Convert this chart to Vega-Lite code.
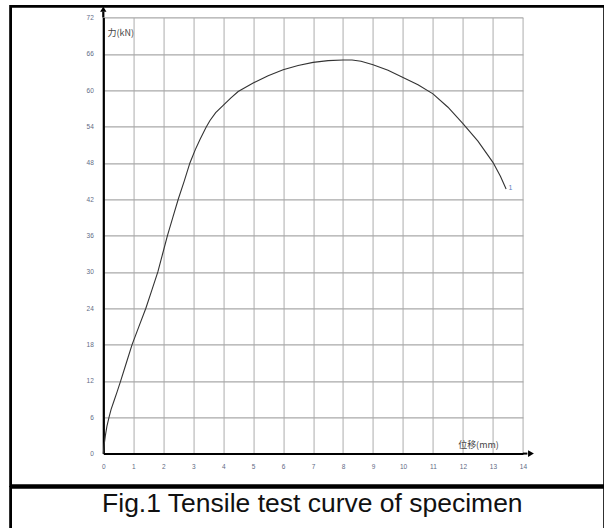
{
  "$schema": "https://vega.github.io/schema/vega-lite/v6.json",
  "padding": {"left": 8.6, "top": 4.4, "right": 0, "bottom": 0},
  "spacing": -2.8,
  "config": {
    "view": {"stroke": "black", "strokeWidth": 2.8},
    "font": "Liberation Sans",
    "axis": {"labelFont": "Liberation Sans"}
  },
  "vconcat": [
    {
      "width": 594,
      "height": 479.2,
      "resolve": {"axis": {"x": "independent", "y": "independent"}},
      "layer": [
        {
          "data": {
            "values": [
              {"disp": 0.00, "force": 0},
              {"disp": 0.03, "force": 1.5},
              {"disp": 0.07, "force": 3},
              {"disp": 0.12, "force": 4.5},
              {"disp": 0.19, "force": 6},
              {"disp": 0.26, "force": 7.3},
              {"disp": 0.35, "force": 8.6},
              {"disp": 0.46, "force": 10.2},
              {"disp": 0.58, "force": 12},
              {"disp": 0.77, "force": 15},
              {"disp": 0.96, "force": 18},
              {"disp": 1.19, "force": 21},
              {"disp": 1.42, "force": 24},
              {"disp": 1.62, "force": 27},
              {"disp": 1.82, "force": 30},
              {"disp": 1.98, "force": 33},
              {"disp": 2.14, "force": 36},
              {"disp": 2.32, "force": 39},
              {"disp": 2.50, "force": 42},
              {"disp": 2.70, "force": 45},
              {"disp": 2.89, "force": 48},
              {"disp": 3.07, "force": 50.2},
              {"disp": 3.23, "force": 51.9},
              {"disp": 3.43, "force": 53.9},
              {"disp": 3.56, "force": 55.0},
              {"disp": 3.75, "force": 56.3},
              {"disp": 4.00, "force": 57.5},
              {"disp": 4.25, "force": 58.7},
              {"disp": 4.50, "force": 59.8},
              {"disp": 4.75, "force": 60.5},
              {"disp": 5.00, "force": 61.2},
              {"disp": 5.50, "force": 62.4},
              {"disp": 6.00, "force": 63.4},
              {"disp": 6.50, "force": 64.1},
              {"disp": 7.00, "force": 64.6},
              {"disp": 7.50, "force": 64.9},
              {"disp": 8.00, "force": 65.0},
              {"disp": 8.30, "force": 65.0},
              {"disp": 8.60, "force": 64.8},
              {"disp": 9.00, "force": 64.2},
              {"disp": 9.50, "force": 63.3},
              {"disp": 10.00, "force": 62.1},
              {"disp": 10.50, "force": 60.9},
              {"disp": 11.00, "force": 59.4},
              {"disp": 11.50, "force": 57.2},
              {"disp": 12.00, "force": 54.5},
              {"disp": 12.50, "force": 51.6},
              {"disp": 13.00, "force": 48.1},
              {"disp": 13.25, "force": 45.8},
              {"disp": 13.44, "force": 43.7}
            ]
          },
          "mark": {"type": "line", "color": "#333333", "strokeWidth": 1.1},
          "encoding": {
            "x": {
              "field": "disp",
              "type": "quantitative",
              "scale": {"domain": [0, 14], "range": [92.7, 512.3], "nice": false, "zero": false},
              "axis": {
                "values": [0, 1, 2, 3, 4, 5, 6, 7, 8, 9, 10, 11, 12, 13, 14],
                "orient": "top",
                "title": null,
                "grid": true,
                "gridColor": "#c4c4c4",
                "gridWidth": 1.4,
                "domain": false,
                "ticks": false,
                "labels": false
              }
            },
            "y": {
              "field": "force",
              "type": "quantitative",
              "scale": {"domain": [0, 72], "range": [447.2, 11.2], "nice": false},
              "axis": {
                "values": [0, 6, 12, 18, 24, 30, 36, 42, 48, 54, 60, 66, 72],
                "orient": "left",
                "title": null,
                "grid": true,
                "gridColor": "#a9a9a9",
                "gridWidth": 1.1,
                "domainColor": "black",
                "domainWidth": 2.2,
                "ticks": false,
                "labelFontSize": 6.5,
                "labelColor": "#5f6b85",
                "labelPadding": 10,
                "labelFlush": false,
                "labelOverlap": false,
                "offset": -92.7
              }
            }
          }
        },
        {
          "data": {"values": [{}]},
          "mark": {"type": "rule", "color": "black", "strokeWidth": 2},
          "encoding": {
            "x": {
              "datum": 14,
              "type": "quantitative",
              "axis": {
                "values": [0, 1, 2, 3, 4, 5, 6, 7, 8, 9, 10, 11, 12, 13, 14],
                "orient": "bottom",
                "title": null,
                "grid": false,
                "domainColor": "black",
                "domainWidth": 2,
                "ticks": false,
                "labelFontSize": 6.5,
                "labelColor": "#5f6b85",
                "labelPadding": 10,
                "labelFlush": false,
                "labelOverlap": false,
                "offset": -32
              }
            },
            "x2": {"datum": 14.15},
            "y": {"datum": 0, "type": "quantitative", "axis": null}
          }
        },
        {
          "data": {"values": [{}]},
          "mark": {"type": "point", "shape": "triangle-right", "filled": true, "color": "black", "opacity": 1, "size": 45},
          "encoding": {
            "x": {"datum": 14.27, "type": "quantitative", "axis": null},
            "y": {"datum": 0, "type": "quantitative", "axis": null}
          }
        },
        {
          "data": {"values": [{}]},
          "mark": {"type": "rule", "color": "black", "strokeWidth": 2.2},
          "encoding": {
            "x": {"datum": 0, "type": "quantitative", "axis": null},
            "y": {"datum": 72, "type": "quantitative", "axis": null},
            "y2": {"datum": 73.0}
          }
        },
        {
          "data": {"values": [{}]},
          "mark": {"type": "point", "shape": "triangle-up", "filled": true, "color": "black", "opacity": 1, "size": 40},
          "encoding": {
            "x": {"datum": 0, "type": "quantitative", "axis": null},
            "y": {"datum": 73.4, "type": "quantitative", "axis": null}
          }
        },
        {
          "data": {"values": [{"label": "力(kN)"}]},
          "mark": {"type": "text", "align": "left", "baseline": "middle", "font": "Noto Sans CJK SC", "fontSize": 9, "color": "#444444"},
          "encoding": {
            "x": {"datum": 0.14, "type": "quantitative", "axis": null},
            "y": {"datum": 69.5, "type": "quantitative", "axis": null},
            "text": {"field": "label"}
          }
        },
        {
          "data": {"values": [{"label": "位移(mm)"}]},
          "mark": {"type": "text", "align": "left", "baseline": "middle", "font": "Noto Sans CJK SC", "fontSize": 9, "color": "#444444"},
          "encoding": {
            "x": {"datum": 11.84, "type": "quantitative", "axis": null},
            "y": {"datum": 1.5, "type": "quantitative", "axis": null},
            "text": {"field": "label"}
          }
        },
        {
          "data": {"values": [{"label": "1"}]},
          "mark": {"type": "text", "align": "left", "baseline": "middle", "fontSize": 7, "color": "#5d7fc0"},
          "encoding": {
            "x": {"datum": 13.52, "type": "quantitative", "axis": null},
            "y": {"datum": 43.8, "type": "quantitative", "axis": null},
            "text": {"field": "label"}
          }
        }
      ]
    },
    {
      "width": 594,
      "height": 44,
      "data": {"values": [{"caption": "Fig.1 Tensile test curve of specimen"}]},
      "mark": {"type": "text", "align": "center", "baseline": "alphabetic", "font": "Liberation Sans", "fontSize": 26.5, "color": "#111111"},
      "encoding": {
        "x": {"datum": 0.508, "type": "quantitative", "scale": {"domain": [0, 1]}, "axis": null},
        "y": {"datum": 0.432, "type": "quantitative", "scale": {"domain": [0, 1]}, "axis": null},
        "text": {"field": "caption"}
      }
    }
  ]
}
